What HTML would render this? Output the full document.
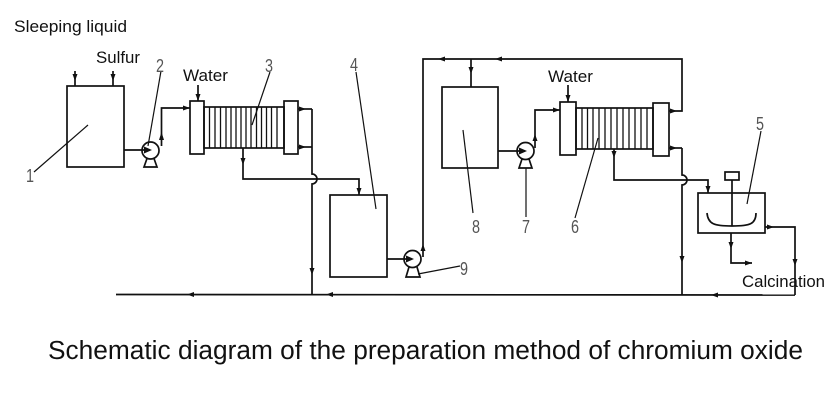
<!DOCTYPE html>
<html><head><meta charset="utf-8"><style>
html,body{margin:0;padding:0;background:#fff;}
svg{display:block;}
.t{font-family:"Liberation Sans",sans-serif;fill:#111;}
.n{font-family:"Liberation Sans",sans-serif;fill:#555;font-size:18px;}
</style></head><body>
<svg width="840" height="400" viewBox="0 0 840 400" xmlns="http://www.w3.org/2000/svg">
<rect width="840" height="400" fill="#fff"/>
<g fill="none" stroke="#111" stroke-width="1.7">
<!-- Tank 1 -->
<rect x="67" y="86" width="57" height="81"/>
<line x1="75" y1="71" x2="75" y2="86"/>
<line x1="113" y1="71" x2="113" y2="86"/>
<line x1="34" y1="172" x2="88" y2="125" stroke-width="1.2"/>
<!-- Pump 2 -->
<line x1="124" y1="150" x2="150" y2="150"/>
<circle cx="150.5" cy="150.5" r="8.5"/>
<path d="M147,158.5 L144,167 L157,167 L154,158.5"/>
<path d="M161.5,146 V108 H190"/>
<line x1="161" y1="71" x2="148" y2="146" stroke-width="1.2"/>
<!-- Exchanger 3 -->
<rect x="190" y="101" width="14" height="53"/>
<rect x="204" y="107" width="80" height="41"/>
<rect x="284" y="101" width="14" height="53"/>
<line x1="198" y1="85" x2="198" y2="101"/>
<g stroke-width="1.3">
<line x1="209.5" y1="107" x2="209.5" y2="148"/><line x1="215" y1="107" x2="215" y2="148"/><line x1="220.5" y1="107" x2="220.5" y2="148"/><line x1="226" y1="107" x2="226" y2="148"/><line x1="231" y1="107" x2="231" y2="148"/><line x1="236" y1="107" x2="236" y2="148"/><line x1="241" y1="107" x2="241" y2="148"/><line x1="246" y1="107" x2="246" y2="148"/><line x1="251" y1="107" x2="251" y2="148"/><line x1="256.5" y1="107" x2="256.5" y2="148"/><line x1="261.5" y1="107" x2="261.5" y2="148"/><line x1="266.5" y1="107" x2="266.5" y2="148"/><line x1="271.5" y1="107" x2="271.5" y2="148"/><line x1="277" y1="107" x2="277" y2="148"/>
</g>
<line x1="270" y1="72" x2="252" y2="125" stroke-width="1.2"/>
<line x1="298" y1="109" x2="312" y2="109"/>
<line x1="298" y1="147" x2="312" y2="147"/>
<path d="M312,109 V174 A5,5 0 0 1 312,184 V294"/>
<path d="M243,148 V179 H359 V195"/>
<!-- Tank 4 -->
<rect x="330" y="195" width="57" height="82"/>
<line x1="356" y1="72" x2="376" y2="209" stroke-width="1.2"/>
<!-- Pump 9 -->
<line x1="387" y1="259" x2="412" y2="259"/>
<circle cx="412.5" cy="259" r="8.5"/>
<path d="M409,267 L406,277 L420,277 L417,267"/>
<path d="M423,257 V59 H682 V111 H669"/>
<line x1="418" y1="274" x2="460" y2="266" stroke-width="1.2"/>
<!-- Tank 8 -->
<line x1="471" y1="59" x2="471" y2="87"/>
<rect x="442" y="87" width="56" height="81"/>
<line x1="473" y1="213" x2="463" y2="130" stroke-width="1.2"/>
<!-- Pump 7 -->
<line x1="498" y1="151" x2="525" y2="151"/>
<circle cx="525.5" cy="151" r="8.5"/>
<path d="M522,159 L519,168 L532,168 L529,159"/>
<path d="M535,148 V110 H560"/>
<line x1="526" y1="217" x2="526" y2="168" stroke-width="1.2"/>
<!-- Exchanger 6 -->
<rect x="560" y="102" width="16" height="53"/>
<rect x="576" y="108" width="77" height="41"/>
<rect x="653" y="103" width="16" height="53"/>
<line x1="568" y1="85" x2="568" y2="102"/>
<g stroke-width="1.3">
<line x1="582" y1="108" x2="582" y2="149"/><line x1="587.5" y1="108" x2="587.5" y2="149"/><line x1="593" y1="108" x2="593" y2="149"/><line x1="599" y1="108" x2="599" y2="149"/><line x1="605" y1="108" x2="605" y2="149"/><line x1="611" y1="108" x2="611" y2="149"/><line x1="617" y1="108" x2="617" y2="149"/><line x1="623" y1="108" x2="623" y2="149"/><line x1="629" y1="108" x2="629" y2="149"/><line x1="635" y1="108" x2="635" y2="149"/><line x1="641" y1="108" x2="641" y2="149"/><line x1="647" y1="108" x2="647" y2="149"/>
</g>
<line x1="575" y1="218" x2="598" y2="138" stroke-width="1.2"/>
<line x1="669" y1="148" x2="682" y2="148"/>
<path d="M682,148 V175 A5,5 0 0 1 682,185 V295"/>
<path d="M614,149 V180 H708 V193"/>
<!-- Reactor 5 -->
<rect x="698" y="193" width="67" height="40"/>
<rect x="725" y="172" width="14" height="8"/>
<line x1="732" y1="180" x2="732" y2="226"/>
<path d="M707,213 C708,224 714,226 732,226 C750,226 756,224 756,213"/>
<line x1="761" y1="131" x2="747" y2="204" stroke-width="1.2"/>
<path d="M731,233 V263 H752"/>
<path d="M765,227 H795 V295"/>
<!-- bottom line -->
<line x1="116" y1="294.5" x2="795" y2="295"/>
</g>
<g fill="#111">
<polygon points="72.5,74 77.5,74 75,81"/>
<polygon points="110.5,74 115.5,74 113,81"/>
<polygon points="144,146.5 144,153.5 152,150"/>
<polygon points="159,140 164,140 161.5,132"/>
<polygon points="183,105.5 183,110.5 190,108"/>
<polygon points="195.5,94 200.5,94 198,101"/>
<polygon points="299,106.5 299,111.5 306,109"/>
<polygon points="299,144.5 299,149.5 306,147"/>
<polygon points="240.5,158 245.5,158 243,165"/>
<polygon points="356.5,188 361.5,188 359,195"/>
<polygon points="309.5,268 314.5,268 312,275"/>
<polygon points="406,255.5 406,262.5 414,259"/>
<polygon points="420.5,251 425.5,251 423,244"/>
<polygon points="445,56.5 445,61.5 438,59"/>
<polygon points="502,56.5 502,61.5 495,59"/>
<polygon points="468.5,67 473.5,67 471,74"/>
<polygon points="519,147.5 519,154.5 527,151"/>
<polygon points="532.5,141 537.5,141 535,134"/>
<polygon points="553,107.5 553,112.5 560,110"/>
<polygon points="565.5,95 570.5,95 568,102"/>
<polygon points="670,108.5 670,113.5 677,111"/>
<polygon points="670,145.5 670,150.5 677,148"/>
<polygon points="611.5,151 616.5,151 614,158"/>
<polygon points="705.5,186 710.5,186 708,193"/>
<polygon points="679.5,256 684.5,256 682,263"/>
<polygon points="728.5,242 733.5,242 731,249"/>
<polygon points="745,260.5 745,265.5 752,263"/>
<polygon points="767,224.5 767,229.5 774,227"/>
<polygon points="792.5,259 797.5,259 795,266"/>
<polygon points="194,292 194,297 187,294.5"/>
<polygon points="333,292 333,297 326,294.5"/>
<polygon points="718,292.5 718,297.5 711,295"/>
</g>
<text class="t" x="14" y="32" font-size="17" textLength="113" lengthAdjust="spacingAndGlyphs">Sleeping liquid</text>
<text class="t" x="96" y="63" font-size="17" textLength="44" lengthAdjust="spacingAndGlyphs">Sulfur</text>
<text class="t" x="183" y="81" font-size="17" textLength="45" lengthAdjust="spacingAndGlyphs">Water</text>
<text class="t" x="548" y="82" font-size="17" textLength="45" lengthAdjust="spacingAndGlyphs">Water</text>
<text class="t" x="742" y="287" font-size="17" textLength="83" lengthAdjust="spacingAndGlyphs">Calcination</text>
<text class="t" x="48" y="359" font-size="25.5" textLength="755" lengthAdjust="spacingAndGlyphs">Schematic diagram of the preparation method of chromium oxide</text>
<text class="n" x="26" y="182" textLength="8" lengthAdjust="spacingAndGlyphs">1</text>
<text class="n" x="156" y="72" textLength="8" lengthAdjust="spacingAndGlyphs">2</text>
<text class="n" x="265" y="72" textLength="8" lengthAdjust="spacingAndGlyphs">3</text>
<text class="n" x="350" y="71" textLength="8" lengthAdjust="spacingAndGlyphs">4</text>
<text class="n" x="756" y="130" textLength="8" lengthAdjust="spacingAndGlyphs">5</text>
<text class="n" x="571" y="233" textLength="8" lengthAdjust="spacingAndGlyphs">6</text>
<text class="n" x="522" y="233" textLength="8" lengthAdjust="spacingAndGlyphs">7</text>
<text class="n" x="472" y="233" textLength="8" lengthAdjust="spacingAndGlyphs">8</text>
<text class="n" x="460" y="275" textLength="8" lengthAdjust="spacingAndGlyphs">9</text>
</svg>
</body></html>
